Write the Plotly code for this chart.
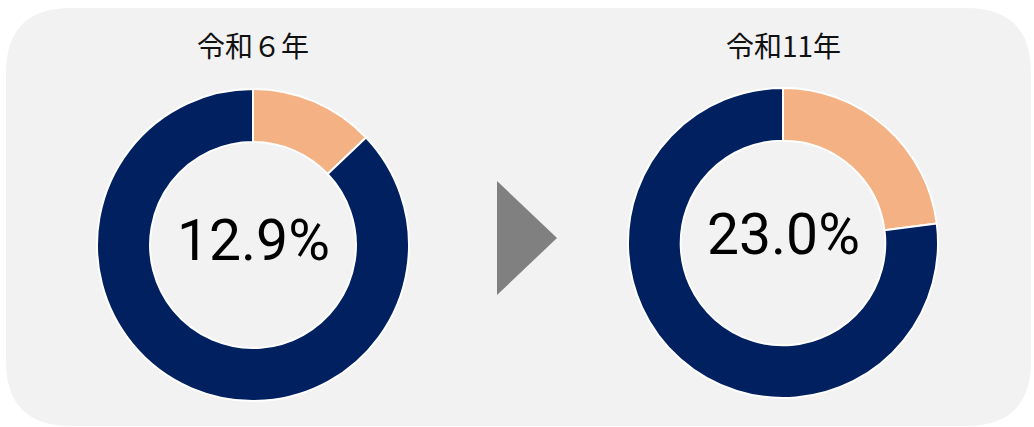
import plotly.graph_objects as go

W, H = 1034, 427

years = ["令和６年", "令和11年"]
labels = ["該当", "その他"]
share_2024 = [12.9, 87.1]
share_2029 = [23.0, 77.0]
center_texts = ["12.9%", "23.0%"]
colors = ["#F4B183", "#002060"]

def px(x):
    return x / W

def py(y):
    return (H - y) / H

# donut geometry in pixels: (cx, cy, r) and centre-label y
donuts = [(253, 245, 156), (783, 243, 155)]
label_y = [241, 235]

fig = go.Figure()
for (cx, cy, r), vals, name in zip(donuts, [share_2024, share_2029], years):
    fig.add_trace(go.Pie(
        labels=labels, values=vals, name=name,
        hole=0.66, sort=False, direction="clockwise", rotation=0,
        marker=dict(colors=colors, line=dict(color="white", width=2)),
        textinfo="none", hoverinfo="label+percent", showlegend=False,
        domain=dict(x=[px(cx - r), px(cx + r)], y=[py(cy + r), py(cy - r)]),
    ))

# rounded background
x0, x1, y0, y1, rr = 6, 1031, 8, 426, 65
path = (f"M {px(x0+rr)},{py(y0)} L {px(x1-rr)},{py(y0)} "
        f"Q {px(x1)},{py(y0)} {px(x1)},{py(y0+rr)} L {px(x1)},{py(y1-rr)} "
        f"Q {px(x1)},{py(y1)} {px(x1-rr)},{py(y1)} L {px(x0+rr)},{py(y1)} "
        f"Q {px(x0)},{py(y1)} {px(x0)},{py(y1-rr)} L {px(x0)},{py(y0+rr)} "
        f"Q {px(x0)},{py(y0)} {px(x0+rr)},{py(y0)} Z")
shapes = [dict(type="path", xref="paper", yref="paper", path=path,
               fillcolor="#F2F2F2", line=dict(width=0), layer="below")]
# arrow triangle
tri = f"M {px(497)},{py(181)} L {px(497)},{py(295)} L {px(557)},{py(238)} Z"
shapes.append(dict(type="path", xref="paper", yref="paper", path=tri,
                   fillcolor="#808080", line=dict(width=0), layer="above"))

annotations = []
for (cx, cy, r), ly, title, ct in zip(donuts, label_y, years, center_texts):
    annotations.append(dict(x=px(cx), y=py(45), xref="paper", yref="paper",
                            text=title, showarrow=False,
                            font=dict(family="Noto Sans CJK JP", size=28, color="#111111"),
                            xanchor="center", yanchor="middle"))
    annotations.append(dict(x=px(cx), y=py(ly), xref="paper", yref="paper",
                            text=ct, showarrow=False,
                            font=dict(family="Roboto", size=57, color="#000000"),
                            xanchor="center", yanchor="middle"))

fig.update_layout(width=W, height=H, margin=dict(l=0, r=0, t=0, b=0),
                  paper_bgcolor="white", plot_bgcolor="white",
                  shapes=shapes, annotations=annotations)
fig.write_html("out.html", config={"displayModeBar": False},
               post_script="document.body.style.margin='0';document.body.style.overflow='hidden';")
